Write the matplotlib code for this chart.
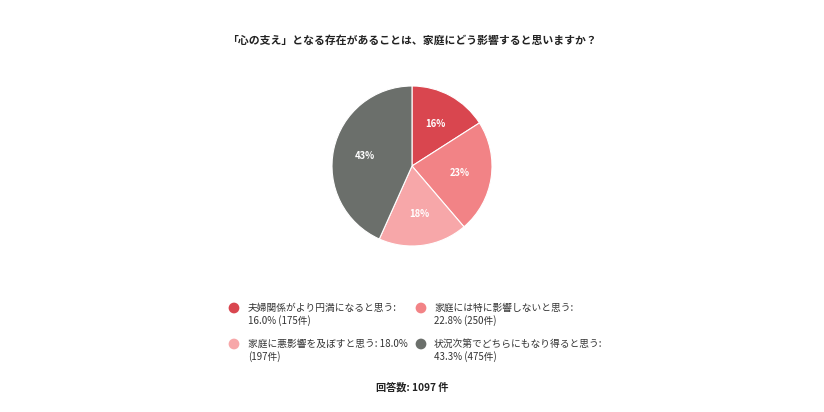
import matplotlib
matplotlib.use('Agg')

import matplotlib.pyplot as plt

plt.rcParams['font.family'] = ['Noto Sans CJK JP', 'DejaVu Sans']

title = '「心の支え」となる存在があることは、家庭にどう影響すると思いますか？'
labels = ['夫婦関係がより円満になると思う', '家庭には特に影響しないと思う',
          '家庭に悪影響を及ぼすと思う', '状況次第でどちらにもなり得ると思う']
percents = [16.0, 22.8, 18.0, 43.3]
counts = [175, 250, 197, 475]
total = 1097
colors = ['#d9464f', '#f28386', '#f7a7a9', '#6b6f6b']

W, H = 824, 412
fig = plt.figure(figsize=(W / 100, H / 100), dpi=100)
fig.patch.set_facecolor('white')

# pie, centre (412,166), radius 80 px
r = 80
ax = fig.add_axes([(412 - r) / W, (H - 166 - r) / H, 2 * r / W, 2 * r / H])
wedges, texts, autotexts = ax.pie(
    counts, colors=colors, startangle=90, counterclock=False,
    autopct='%1.0f%%', pctdistance=0.6,
    wedgeprops={'edgecolor': 'white', 'linewidth': 0.8},
    textprops={'color': 'white', 'fontsize': 6.8, 'fontweight': 'bold'})
ax.set_xlim(-1, 1)
ax.set_ylim(-1, 1)
ax.set_aspect('equal')

# overlay in pixel coordinates for title / legend / footer
ov = fig.add_axes([0, 0, 1, 1])
ov.set_xlim(0, W)
ov.set_ylim(H, 0)
ov.axis('off')

ov.text(412, 40, title, ha='center', va='center', fontsize=7.8,
        fontweight='bold', color='#222222')

# legend entries: (marker x, text x, first line y, label lines)
entries = [
    (234, 248, 308, [labels[0] + ':', f'{percents[0]:.1f}% ({counts[0]}件)']),
    (421, 434, 308, [labels[1] + ':', f'{percents[1]:.1f}% ({counts[1]}件)']),
    (234, 248, 344, [labels[2] + f': {percents[2]:.1f}%', f'({counts[2]}件)']),
    (421, 434, 344, [labels[3] + ':', f'{percents[3]:.1f}% ({counts[3]}件)']),
]
for (mx, tx, ty, lines), c in zip(entries, colors):
    ov.scatter([mx], [ty], s=60, color=c, edgecolors='none')
    for i, line in enumerate(lines):
        ov.text(tx, ty + i * 13, line, ha='left', va='center', fontsize=7,
                color='#333333')

ov.text(412, 388, f'回答数: {total} 件', ha='center', va='center',
        fontsize=7.3, fontweight='bold', color='#222222')

fig.savefig('out.png', dpi=100, facecolor='white')
